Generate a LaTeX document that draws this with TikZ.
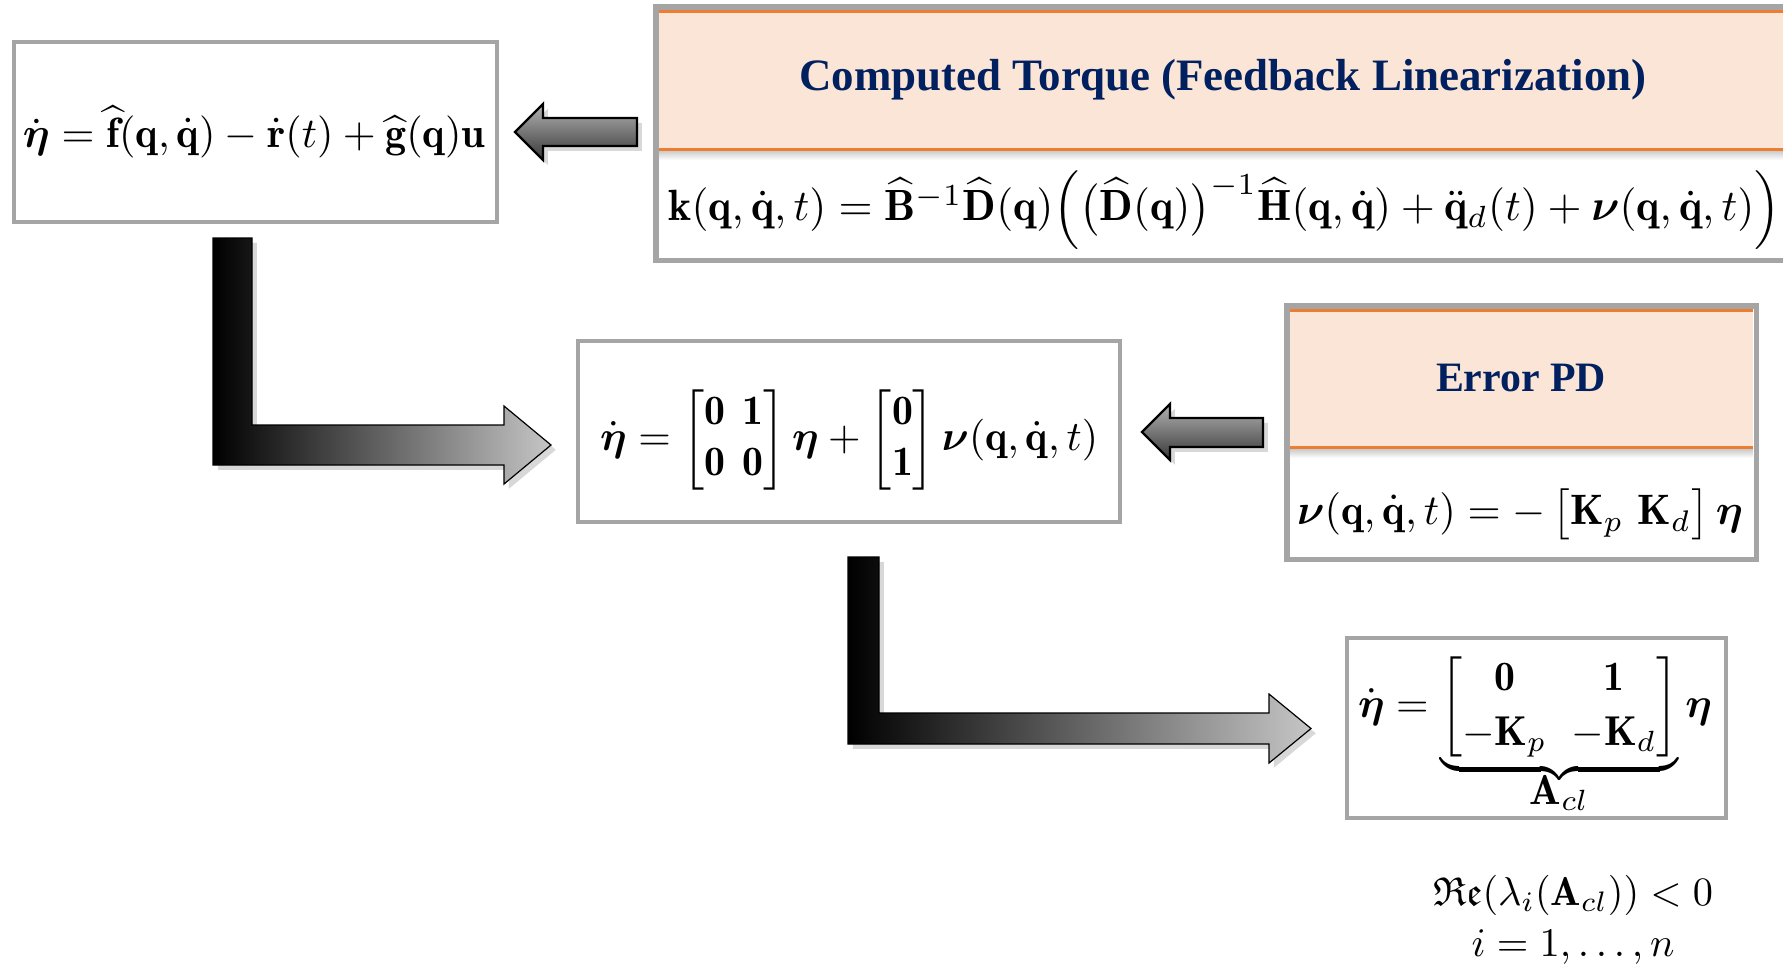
\documentclass[tikz,border=0pt]{standalone}
\usepackage{amsmath,amssymb}
\usepackage{graphicx}
\usepackage{fontspec}
\newfontfamily\hdrfamily{Liberation Serif}
\usetikzlibrary{shadows}
\definecolor{navy}{HTML}{002060}
\definecolor{peach}{HTML}{FBE5D6}
\definecolor{orangeline}{HTML}{ED7D31}
\definecolor{boxgray}{HTML}{A5A5A5}
\newcommand{\bq}{\mathbf{q}}
\newcommand{\bdq}{\dot{\mathbf{q}}}
\newcommand{\hdrfont}{\hdrfamily\bfseries}
\newcommand{\tightbrace}[2]{\mathop{\vtop{\mathsurround=0pt\ialign{##\crcr$\hfil\displaystyle{#1}\hfil$\crcr\noalign{\kern1.2pt\nointerlineskip}\upbracefill\crcr\noalign{\kern0.8pt\nointerlineskip}\hfil$\textstyle#2$\hfil\crcr}}}}
\begin{document}
\begin{tikzpicture}[x=0.25pt,y=-0.25pt,
  plainbox/.style={draw=boxgray, line width=1.2pt, fill=white, inner sep=0pt},
  framebox/.style={draw=boxgray, line width=1.3pt, inner sep=0pt},
  hdrline/.style={draw=orangeline, line width=0.75pt},
  eqtext/.style={inner sep=0pt},
  hdrtext/.style={inner sep=0pt, text=navy},
  lbar/.style={draw=black, line width=0.3pt, left color=black, right color=gray!45,
    drop shadow={opacity=0.3, shadow xshift=1.2pt, shadow yshift=-1.2pt}},
  larrow/.style={draw=black, line width=0.6pt, top color=gray!60, bottom color=black!78,
    drop shadow={opacity=0.3, shadow xshift=1.2pt, shadow yshift=-1.2pt}}
]
\useasboundingbox (0,0) rectangle (1783,967);
\clip (0,0) rectangle (1783,967);
\fill[white] (0,0) rectangle (1783,967);

% ---- system box (top left)
\node[plainbox, minimum width=120.75pt, minimum height=45pt] (sys) at (255.5,132) {};
\node[eqtext] (sysEq) at (254,132) {\resizebox{115.5pt}{!}{$\dot{\boldsymbol{\eta}} = \widehat{\mathbf{f}}(\bq,\bdq) - \dot{\mathbf{r}}(t) + \widehat{\mathbf{g}}(\bq)\mathbf{u}$}};

% ---- computed torque box
\node[fill=white, inner sep=0pt, minimum width=287pt, minimum height=63pt, anchor=north west] (ct) at (656,7) {};
\fill[peach] (658,11) rectangle (1800,149);
\shade[top color=black!22, bottom color=white] (658,150) rectangle (1800,160);
\draw[hdrline] (658,11) -- (1800,11);
\draw[hdrline] (658,149) -- (1800,149);
\draw[framebox] (ct.north west) rectangle (ct.south east);
\node[hdrtext] (ctTitle) at (1223,80) {\resizebox{211.75pt}{!}{\hdrfont Computed Torque (Feedback Linearization)}};
\node[eqtext] (ctEq) at (1224.5,210) {\resizebox{278pt}{!}{$\mathbf{k}(\bq,\bdq,t) = \widehat{\mathbf{B}}^{-1}\widehat{\mathbf{D}}(\bq)\Bigl(\bigl(\widehat{\mathbf{D}}(\bq)\bigr)^{-1}\widehat{\mathbf{H}}(\bq,\bdq) + \ddot{\mathbf{q}}_d(t) + \boldsymbol{\nu}(\bq,\bdq,t)\Bigr)$}};

% ---- linearized box (middle)
\node[plainbox, minimum width=135.5pt, minimum height=45.25pt] (lin) at (849,431.5) {};
\node[eqtext] (linEq) at (849,440) {\resizebox{124.5pt}{!}{$\arraycolsep=2pt\dot{\boldsymbol\eta} = \begin{bmatrix}\mathbf0&\mathbf1\\\mathbf0&\mathbf0\end{bmatrix}\boldsymbol\eta + \begin{bmatrix}\mathbf0\\\mathbf1\end{bmatrix}\boldsymbol\nu(\bq,\bdq,t)$}};

% ---- error PD box
\node[fill=white, inner sep=0pt, minimum width=117pt, minimum height=63pt, anchor=north west] (epd) at (1287,306) {};
\fill[peach] (1289,310) rectangle (1753,447.5);
\shade[top color=black!22, bottom color=white] (1289,448.5) rectangle (1753,458);
\draw[hdrline] (1289,310) -- (1753,310);
\draw[hdrline] (1289,447.5) -- (1753,447.5);
\draw[framebox] (epd.north west) rectangle (epd.south east);
\node[hdrtext] (epdTitle) at (1521,378) {\resizebox{42.5pt}{!}{\hdrfont Error PD}};
\node[eqtext] (epdEq) at (1520,514) {\resizebox{111.5pt}{!}{$\boldsymbol\nu(\bq,\bdq,t) = -\,\bigl[\mathbf K_p\ \mathbf K_d\bigr]\,\boldsymbol\eta$}};

% ---- closed loop box
\node[plainbox, minimum width=94.75pt, minimum height=45pt] (cl) at (1536.5,728) {};
\node[eqtext] (clEq) at (1535,731) {\resizebox{88.5pt}{!}{$\arraycolsep=3pt\renewcommand{\arraystretch}{1.1}\dot{\boldsymbol\eta} = \tightbrace{\begin{bmatrix}\mathbf0&\mathbf1\\-\mathbf K_p&-\mathbf K_d\end{bmatrix}}{\mathbf A_{cl}}\boldsymbol\eta$}};

% ---- stability condition
\node[eqtext] (stab1) at (1573,895) {\resizebox{70pt}{!}{$\mathfrak{Re}(\lambda_i(\mathbf A_{cl}))<0$}};
\node[eqtext] (stab2) at (1573,947) {\resizebox{50.75pt}{!}{$i=1,\dots,n$}};

% ---- block arrows
\path[larrow] (515,132) -- (543,104) -- (543,118) -- (637,118) -- (637,146) -- (543,146) -- (543,160) -- cycle;
\path[larrow] (1142,432) -- (1170,404) -- (1170,418) -- (1263,418) -- (1263,447) -- (1170,447) -- (1170,460) -- cycle;
\path[lbar] (213,238) -- (252,238) -- (252,425) -- (504,425) -- (504,406) -- (551,445) -- (504,484) -- (504,465) -- (213,465) -- cycle;
\path[lbar] (848,557) -- (879,557) -- (879,713) -- (1269,713) -- (1269,694) -- (1311,728.5) -- (1269,763) -- (1269,744) -- (848,744) -- cycle;
\end{tikzpicture}
\end{document}
